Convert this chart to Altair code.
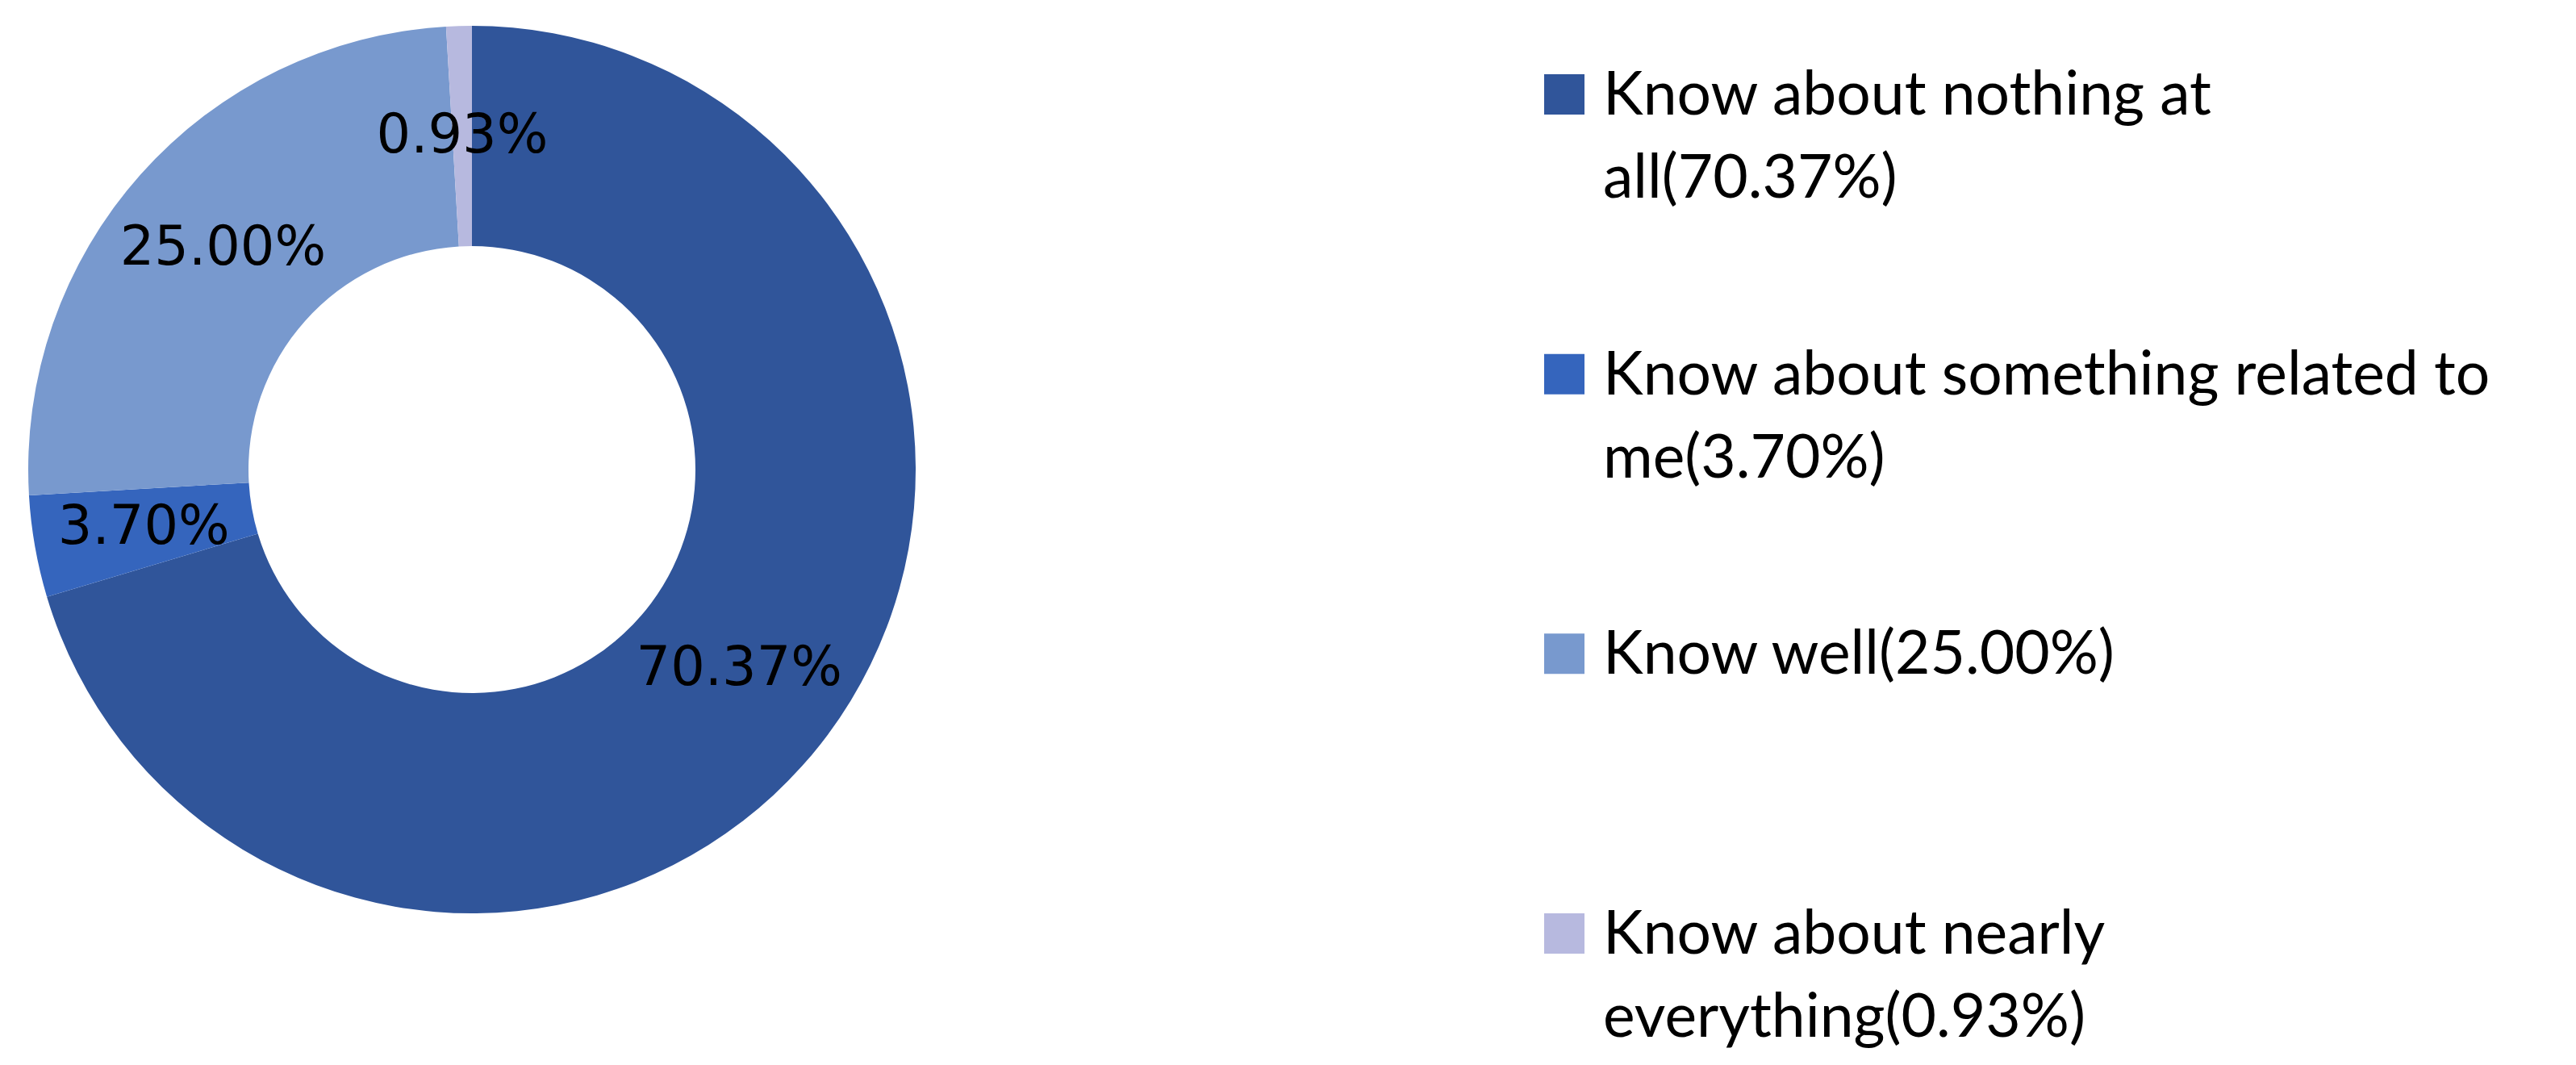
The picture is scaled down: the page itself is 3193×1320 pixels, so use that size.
import altair as alt
import pandas as pd

# ---- data ----
categories = [
    "Know about nothing at all",
    "Know about something related to me",
    "Know well",
    "Know about nearly everything",
]
values = [70.37, 3.70, 25.00, 0.93]
legend_labels = [
    "Know about nothing at\nall(70.37%)",
    "Know about something related to\nme(3.70%)",
    "Know well(25.00%)",
    "Know about nearly\neverything(0.93%)",
]
colors = ["#30559A", "#3565BD", "#7899CE", "#B7B9DF"]

df = pd.DataFrame({
    "category": categories,
    "value": values,
    "order": list(range(len(categories))),
    "label": [f"{v:.2f}%" for v in values],
    "legend": legend_labels,
})

color = alt.Color(
    "category:N",
    scale=alt.Scale(domain=categories, range=colors),
    legend=None,
)

base = alt.Chart(df).encode(
    theta=alt.Theta("value:Q", stack=True),
    order=alt.Order("order:Q"),
)

arcs = base.mark_arc(outerRadius=550, innerRadius=277).encode(color=color)
labels = base.mark_text(
    radius=413, font="DejaVu Sans", fontSize=67, color="#000000"
).encode(text="label:N")

donut = alt.layer(arcs, labels).properties(width=1154, height=1148)

leg_base = alt.Chart(df).encode(
    y=alt.Y(
        "category:N",
        sort=categories,
        axis=None,
        scale=alt.Scale(type="point", padding=0.3144),
    )
)
swatch = leg_base.mark_square(size=2500, opacity=1).encode(
    x=alt.value(39), color=color
)
leg_text = leg_base.mark_text(
    align="left",
    baseline="alphabetic",
    dy=25,
    font="Lato",
    fontSize=75,
    lineBreak="\n",
    lineHeight=103,
    color="#000000",
).encode(x=alt.value(87), text="legend:N")

legend = alt.layer(swatch, leg_text).properties(width=1280, height=1258)

chart = (
    alt.hconcat(donut, legend, spacing=738)
    .properties(padding=0, background="white")
    .configure_view(stroke=None)
)

chart.save("out.html", embed_options={"renderer": "svg", "actions": False})
